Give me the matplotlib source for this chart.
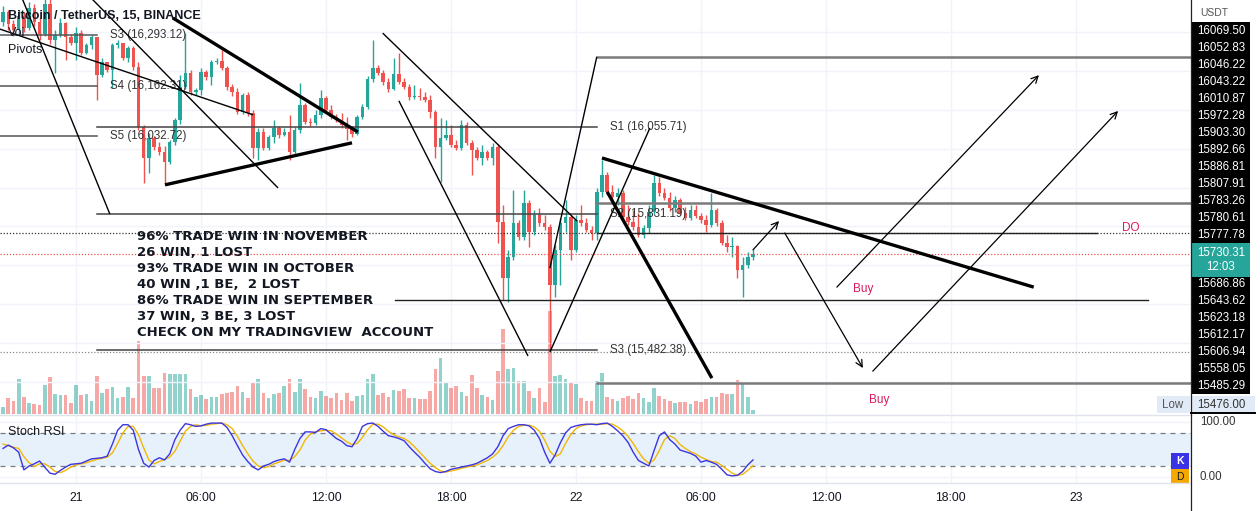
import numpy as np
import matplotlib.pyplot as plt
from matplotlib.patches import Rectangle

# ---------------------------
# DATA (15 min bars, bar 0 = 21 Nov 00:00)
# ---------------------------
bars = np.arange(-14, 131)
first_open = 16325

close = np.array([
    16351, 16320, 16305, 16341, 16310, 16361, 16325, 16295, 16372, 16279,
    16292, 16323, 16287, 16271, 16297, 16246, 16266, 16287, 16189, 16223,
    16202, 16266, 16271, 16233, 16259, 16210, 16055, 15976, 16027, 16004,
    15991, 15965, 16017, 16073, 16158, 16194, 16146, 16151, 16197, 16184,
    16223, 16225, 16207, 16158, 16146, 16094, 16138, 16091, 16001, 16043,
    16001, 16030, 16053, 16035, 16043, 15991, 16048, 16112, 16068, 16066,
    16086, 16130, 16099, 16081, 16073, 16061, 16050, 16037, 16081, 16107,
    16179, 16207, 16194, 16171, 16153, 16192, 16171, 16158, 16133, 16135,
    16133, 16125, 16094, 16004, 16027, 16035, 16009, 16001, 16061, 16014,
    15996, 15976, 15991, 15976, 16004, 15811, 15667, 15721, 15809, 15773,
    15860, 15786, 15829, 15809, 15798, 15649, 15739, 15809, 15824, 15739,
    15816, 15809, 15791, 15783, 15888, 15932, 15888, 15876, 15886, 15824,
    15811, 15798, 15778, 15796, 15837, 15912, 15886, 15873, 15847, 15868,
    15834, 15822, 15842, 15827, 15816, 15804, 15842, 15809, 15757, 15747,
    15750, 15688, 15701, 15721, 15730.31])

high = np.array([
    16367, 16356, 16331, 16356, 16351, 16377, 16372, 16336, 16387, 16392,
    16305, 16336, 16325, 16295, 16313, 16305, 16271, 16292, 16284, 16233,
    16220, 16271, 16279, 16269, 16264, 16264, 16223, 16061, 16040, 16032,
    16017, 16007, 16022, 16079, 16189, 16297, 16202, 16156, 16207, 16202,
    16228, 16233, 16254, 16212, 16166, 16156, 16143, 16146, 16099, 16053,
    16053, 16035, 16073, 16058, 16053, 16086, 16055, 16169, 16117, 16079,
    16099, 16151, 16135, 16112, 16089, 16092, 16081, 16058, 16086, 16115,
    16187, 16279, 16215, 16202, 16181, 16233, 16246, 16181, 16166, 16163,
    16156, 16146, 16138, 16099, 16079, 16073, 16061, 16022, 16073, 16068,
    16022, 16004, 16009, 15996, 16014, 16012, 15855, 15739, 15894, 15816,
    15894, 15868, 15842, 15847, 15829, 15806, 15752, 15822, 15868, 15829,
    15829, 15855, 15822, 15801, 15899, 15971, 15940, 15906, 15899, 15894,
    15855, 15842, 15834, 15804, 15855, 15932, 15927, 15899, 15888, 15878,
    15873, 15850, 15855, 15855, 15834, 15829, 15886, 15847, 15816, 15778,
    15773, 15752, 15721, 15734, 15742])

low = np.array([
    16315, 16305, 16289, 16295, 16300, 16305, 16315, 16279, 16289, 16269,
    16194, 16287, 16228, 16266, 16228, 16241, 16243, 16256, 16125, 16184,
    16197, 16156, 16259, 16228, 16223, 16202, 16048, 15911, 15937, 15996,
    15984, 15906, 15960, 16009, 16063, 16153, 16138, 16138, 16138, 16176,
    16163, 16217, 16202, 16151, 16135, 16089, 16089, 16084, 15976, 15971,
    15996, 15996, 16014, 16027, 16032, 15971, 15986, 16040, 16063, 16058,
    16061, 16079, 16092, 16076, 16068, 16053, 16022, 16030, 16035, 16076,
    16102, 16171, 16189, 16163, 16146, 16151, 16166, 16153, 16125, 16127,
    16125, 16120, 16079, 15976, 15914, 16022, 16004, 15996, 15996, 16009,
    15932, 15971, 15958, 15971, 15958, 15757, 15611, 15606, 15714, 15765,
    15765, 15747, 15778, 15801, 15791, 15482, 15618, 15649, 15786, 15714,
    15734, 15801, 15786, 15765, 15765, 15876, 15881, 15868, 15855, 15816,
    15804, 15791, 15773, 15770, 15783, 15832, 15878, 15868, 15840, 15837,
    15829, 15816, 15816, 15822, 15809, 15786, 15798, 15801, 15752, 15734,
    15721, 15667, 15618, 15693, 15714])

volume = np.array([
    7, 16, 13, 35, 17, 11, 10, 9, 29, 37,
    20, 19, 19, 11, 29, 19, 20, 13, 38, 21,
    25, 27, 16, 17, 27, 16, 73, 38, 38, 26,
    26, 41, 40, 40, 40, 40, 25, 17, 19, 15,
    17, 17, 20, 21, 22, 28, 22, 16, 32, 35,
    21, 16, 20, 21, 28, 35, 22, 35, 25, 17,
    16, 23, 18, 16, 21, 14, 21, 13, 18, 19,
    35, 40, 19, 21, 17, 24, 23, 25, 16, 16,
    15, 15, 23, 45, 56, 31, 26, 28, 22, 18,
    39, 26, 19, 17, 14, 43, 85, 45, 46, 33,
    33, 23, 16, 26, 12, 103, 38, 39, 35, 31,
    30, 16, 13, 13, 33, 41, 17, 15, 13, 16,
    18, 15, 21, 16, 12, 26, 18, 15, 13, 11,
    12, 12, 10, 13, 12, 15, 17, 17, 21, 20,
    20, 34, 31, 17, 4])

stoch_k = np.array([
    52, 58, 53, 45, 13, 20, 24, 29, 18, 7,
    5, 12, 18, 23, 24, 25, 29, 33, 34, 35,
    38, 60, 85, 95, 95, 85, 50, 25, 18, 30,
    35, 31, 42, 68, 85, 97, 95, 92, 93, 96,
    98, 98, 98, 90, 75, 57, 40, 28, 18, 13,
    20, 23, 28, 31, 33, 27, 50, 70, 82, 82,
    81, 88, 86, 78, 70, 65, 57, 55, 70, 92,
    97, 98, 92, 83, 75, 73, 70, 66, 55, 45,
    36, 25, 15, 10, 8, 10, 14, 16, 18, 20,
    22, 25, 30, 35, 42, 55, 75, 88, 92, 95,
    95, 93, 85, 70, 45, 25, 40, 62, 80, 90,
    93, 95, 96, 96, 95, 97, 98, 92, 84, 75,
    63, 45, 30, 25, 20, 48, 75, 82, 68, 60,
    49, 46, 43, 38, 27, 30, 27, 23, 14, 4,
    2, 3, 10, 22, 31])

stoch_d = np.array([
    60, 57, 54, 52, 37, 26, 19, 24, 24, 18,
    10, 8, 12, 18, 22, 24, 26, 29, 32, 34,
    36, 44, 61, 80, 92, 92, 77, 53, 31, 24,
    28, 32, 36, 47, 65, 83, 92, 95, 93, 94,
    96, 97, 98, 95, 88, 74, 57, 42, 29, 20,
    17, 19, 24, 27, 31, 30, 37, 49, 67, 78,
    82, 84, 85, 84, 78, 71, 64, 59, 61, 72,
    86, 96, 96, 91, 83, 77, 73, 70, 64, 55,
    45, 35, 25, 17, 11, 9, 11, 13, 16, 18,
    20, 22, 26, 30, 36, 44, 57, 73, 85, 92,
    94, 94, 91, 83, 67, 47, 37, 42, 61, 77,
    88, 93, 95, 96, 96, 96, 97, 96, 91, 84,
    74, 61, 46, 33, 25, 31, 48, 68, 75, 70,
    59, 52, 46, 42, 36, 32, 28, 27, 21, 14,
    7, 3, 5, 12, 21])

time_ticks = [0, 24, 48, 72, 96, 120, 144, 168, 192]
time_labels = ["21", "06:00", "12:00", "18:00", "22", "06:00", "12:00", "18:00", "23"]

# pivots: (name, price)
pivots_prev = [("S3", 16293.12), ("S4", 16162.31), ("S5", 16032.72)]
pivots_curr = [("S1", 16055.71), ("S2", 15831.19), ("S3", 15482.38)]

# drawings in (bar, price)
trend_lines = [
    ((-10.6, 16395), (6.5, 15832), 1.0),
    ((-16.5, 16316), (34.0, 16087), 1.0),
    ((2.7, 16390), (38.8, 15899), 1.0),
    ((18.6, 16336), (54.1, 16043), 2.4),
    ((17.1, 15907), (53.0, 16015), 2.4),
    ((58.9, 16297), (96.2, 15814), 1.0),
    ((62.0, 16123), (86.8, 15467), 1.0),
    ((91.0, 15693), (100.0, 16236), 1.0),
    ((91.0, 15477), (110.2, 16053), 1.0),
    ((101.0, 15976), (183.9, 15644), 2.4),
    ((102.0, 15889), (122.1, 15410), 2.4),
]
arrows = [
    ((130.0, 15740), (135.0, 15814)),
    ((136.1, 15783), (151.1, 15436)),
    ((146.1, 15644), (184.9, 16189)),
    ((153.0, 15428), (200.1, 16097)),
]
# (price, start bar, end bar or None, color, width)
h_lines = [
    (16236, 100.0, None, "#7b7b7b", 1.8),
    (15860, 100.0, None, "#7b7b7b", 1.8),
    (15783, 100.0, 196.0, "#222222", 1.0),
    (15612.17, 61.3, 205.8, "#222222", 1.0),
    (15397, 100.0, None, "#7b7b7b", 1.8),
]
do_price = 15783
low_price = 15476.00

text_lines = [
    "96% TRADE WIN IN NOVEMBER",
    "26 WIN, 1 LOST",
    "93% TRADE WIN IN OCTOBER",
    "40 WIN ,1 BE,  2 LOST",
    "86% TRADE WIN IN SEPTEMBER",
    "37 WIN, 3 BE, 3 LOST",
    "CHECK ON MY TRADINGVIEW  ACCOUNT",
]

axis_upper = ["16069.50", "16052.83", "16046.22", "16043.22", "16010.87", "15972.28",
              "15903.30", "15892.66", "15886.81", "15807.91", "15783.26", "15780.61",
              "15777.78"]
axis_lower = ["15686.86", "15643.62", "15623.18", "15612.17", "15606.94", "15558.05",
              "15485.29"]
countdown = "12:03"

# ---------------------------
# STYLE
# ---------------------------
UP, DOWN = "#26a69a", "#ef5350"
PINK = "#d81b60"
FONT = "Liberation Sans"
W, H = 1260, 511

open_ = np.concatenate([[first_open], close[:-1]])
high = np.maximum(high, np.maximum(open_, close))
low = np.minimum(low, np.minimum(open_, close))
up = close >= open_
colors = np.where(up, UP, DOWN)

fig = plt.figure(figsize=(W / 100, H / 100), dpi=100)
fig.patch.set_facecolor("white")


def rect(x0, y0, x1, y1):
    return [x0 / W, 1 - y1 / H, (x1 - x0) / W, (y1 - y0) / H]


ax_vol = fig.add_axes(rect(0, 0, 1191, 414))
ax = fig.add_axes(rect(0, 0, 1191, 414), sharex=ax_vol)
ax.patch.set_visible(False)
ax_st = fig.add_axes(rect(0, 416, 1191, 483), sharex=ax_vol)
over = fig.add_axes([0, 0, 1, 1])
over.set_xlim(0, W)
over.set_ylim(H, 0)
over.axis("off")

for a in (ax_vol, ax, ax_st):
    for s in a.spines.values():
        s.set_visible(False)
    a.tick_params(length=0, labelleft=False, labelbottom=False)
    a.set_yticks([])

x_lo, x_hi = -14.59, 214.1
ax_vol.set_xlim(x_lo, x_hi)
ax.set_ylim(15317.8, 16382.2)
ax_vol.set_ylim(0, volume.max() * 4.02)
ax_st.set_ylim(-10.9, 110.9)

# grid
for t in time_ticks:
    ax_vol.axvline(t, color="#f0f3fa", lw=1, zorder=0)
    ax_st.axvline(t, color="#f0f3fa", lw=1, zorder=0)
for p in range(15400, 16400, 100):
    ax.axhline(p, color="#f0f3fa", lw=1, zorder=0)

# volume
ax_vol.bar(bars, volume, width=0.7, color=colors, alpha=0.5, linewidth=0)

# candles
ax.vlines(bars, low, high, colors=colors, lw=1, zorder=3)
body_lo = np.minimum(open_, close)
body_h = np.maximum(np.abs(close - open_), 1.5)
ax.bar(bars, body_h, bottom=body_lo, width=0.68, color=colors, linewidth=0, zorder=4)

# pivots
for name, p in pivots_prev:
    ax.plot([x_lo, 4.0], [p, p], color="#555555", lw=1.1, zorder=5)
    ax.text(6.5, p, f"{name} ({p:,.2f})", fontsize=8.3, family=FONT, color="#333333",
            va="center", zorder=6)
for name, p in pivots_curr:
    ax.plot([4.0, 100.0], [p, p], color="#444444", lw=1.1, zorder=5)
    ax.text(102.5, p, f"{name} ({p:,.2f})", fontsize=8.3, family=FONT, color="#333333",
            va="center", zorder=6)

# dotted lines
ax.axhline(do_price, color="#333333", lw=0.9, ls=(0, (1, 1.5)), zorder=5)
ax.axhline(close[-1], color=DOWN, lw=0.9, ls=(0, (1, 1.5)), zorder=5)
ax.axhline(low_price, color="#888888", lw=0.9, ls=(0, (1, 1.5)), zorder=5)

for p, a0, a1, c, w in h_lines:
    ax.plot([a0, x_hi if a1 is None else a1], [p, p], color=c, lw=w, zorder=5)

for (x0, y0), (x1, y1), w in trend_lines:
    ax.plot([x0, x1], [y0, y1], color="black", lw=w, zorder=6, solid_capstyle="butt")

for (x0, y0), (x1, y1) in arrows:
    ax.annotate("", xy=(x1, y1), xytext=(x0, y0),
                arrowprops=dict(arrowstyle="->", color="black", lw=0.9,
                                mutation_scale=12, shrinkA=0, shrinkB=0), zorder=6)

ax.text(200.8, do_price + 13, "DO", color=PINK, fontsize=8.5, family=FONT, va="center")
ax.text(149.2, 15639, "Buy", color=PINK, fontsize=8.5, family=FONT, va="center")
ax.text(152.3, 15354, "Buy", color=PINK, fontsize=8.5, family=FONT, va="center")

for i, line in enumerate(text_lines):
    ax.annotate(line, xy=(11.7, 15773), xytext=(0, -i * 11.52), textcoords="offset points",
                fontsize=9.5, family="DejaVu Sans", fontweight="bold", color="#131722",
                va="center", zorder=7)

# stoch rsi
ax_st.axhspan(20, 80, color="#e6f1fc", lw=0, zorder=0)
for lvl in (20, 80):
    ax_st.axhline(lvl, color="#787b86", lw=0.9, ls=(0, (4, 4)), zorder=1)
for lvl in (0, 100):
    ax_st.axhline(lvl, color="#f0f3fa", lw=1, zorder=0)
ax_st.plot(bars, stoch_d, color="#f2b705", lw=1, zorder=3)
ax_st.plot(bars, stoch_k, color="#3c35e0", lw=1, zorder=4)

ax_st.set_xticks(time_ticks)
ax_st.set_xticklabels(time_labels)
ax_st.tick_params(labelbottom=True, pad=6.5)
for lab in ax_st.get_xticklabels():
    lab.set_fontsize(8.7)
    lab.set_family(FONT)
    lab.set_color("#131722")

# ---------------------------
# OVERLAY: headers and price scale
# ---------------------------
over.text(8, 16, "Bitcoin / TetherUS, 15, BINANCE", fontsize=9, family=FONT,
          fontweight="bold", color="#131722", va="center")
over.text(8, 33, "Vol", fontsize=9, family=FONT, color="#131722", va="center")
over.text(8, 50, "Pivots", fontsize=9, family=FONT, color="#131722", va="center")
over.text(8, 432, "Stoch RSI", fontsize=9, family=FONT, color="#131722", va="center")

over.plot([0, 1191], [415, 415], color="#e0e3eb", lw=1)
over.plot([0, 1191], [483.5, 483.5], color="#e0e3eb", lw=1)
over.plot([1191, 1191], [0, H], color="#222222", lw=0.9)

over.text(1200, 13, "USDT", fontsize=7.5, family=FONT, color="#555555", va="center")
over.add_patch(Rectangle((1191, 22.5), 59, 221, color="black", lw=0))
over.add_patch(Rectangle((1191, 243.5), 59, 33.5, color=UP, lw=0))
over.add_patch(Rectangle((1191, 277), 59, 117.5, color="black", lw=0))
for i, lab in enumerate(axis_upper):
    over.text(1221, 31 + 17 * i, lab, fontsize=8.3, family=FONT, color="white",
              ha="center", va="center")
over.text(1221, 253, f"{close[-1]:.2f}", fontsize=8.3, family=FONT, color="white",
          ha="center", va="center")
over.text(1221, 267, countdown, fontsize=8.3, family=FONT, color="white",
          ha="center", va="center")
for i, lab in enumerate(axis_lower):
    over.text(1221, 284 + 17 * i, lab, fontsize=8.3, family=FONT, color="white",
              ha="center", va="center")

over.add_patch(Rectangle((1157, 396), 33, 17, color="#e1eaf7", lw=0))
over.add_patch(Rectangle((1191, 396), 64, 17, color="#e1eaf7", lw=0))
over.text(1173, 404.5, "Low", fontsize=8.3, family=FONT, color="#555555", ha="center", va="center")
over.text(1221, 404.5, f"{low_price:.2f}", fontsize=8.3, family=FONT, color="#333333",
          ha="center", va="center")
over.plot([1191, 1255], [413.5, 413.5], color="black", lw=1.4)

over.text(1200, 422, "100.00", fontsize=8.3, family=FONT, color="#333333", va="center")
over.text(1200, 477, "0.00", fontsize=8.3, family=FONT, color="#333333", va="center")
over.add_patch(Rectangle((1171, 453), 18, 16, color="#3a33e6", lw=0))
over.add_patch(Rectangle((1171, 469), 18, 15, color="#f5a800", lw=0))
over.text(1180, 461, "K", fontsize=7.5, family=FONT, color="white", fontweight="bold",
          ha="center", va="center")
over.text(1180, 476.5, "D", fontsize=7.5, family=FONT, color="#131722",
          ha="center", va="center")

fig.savefig("out.png", dpi=100)
